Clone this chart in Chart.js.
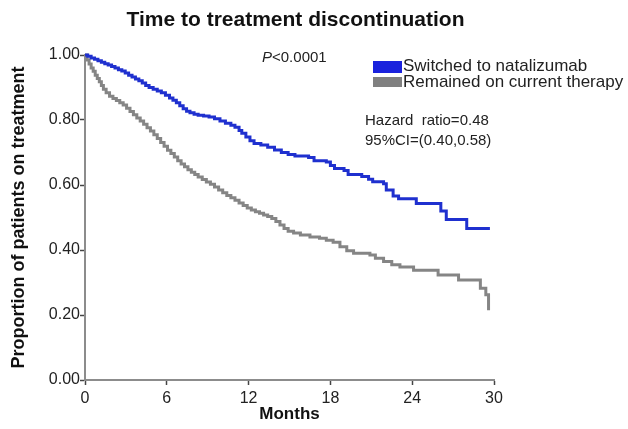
<!DOCTYPE html>
<html>
<head>
<meta charset="utf-8">
<script src="https://cdn.jsdelivr.net/npm/chart.js@4"></script>
<style>
  html, body { margin: 0; padding: 0; background: #fff; }
  #wrap { position: relative; width: 628px; height: 429px; font-family: "Liberation Sans", Arial, sans-serif; color: #222; }
  #c { position: absolute; left: 0; top: 0; }
  .ov { position: absolute; white-space: pre; line-height: 1; }
  .box { position: absolute; width: 29px; }
</style>
</head>
<body>
<div id="wrap">
  <canvas id="c" width="628" height="429"></canvas>
  <div class="ov" id="pval" style="left:262px; top:49px; font-size:15px;"><i>P</i>&lt;0.0001</div>
  <div class="box" style="left:373px; top:61px; height:12px; background:#1a22dd;"></div>
  <div class="box" style="left:373px; top:77px; height:10px; background:#808080;"></div>
  <div class="ov" id="leg1" style="left:403px; top:57px; font-size:17px;"></div>
  <div class="ov" id="leg2" style="left:403px; top:73px; font-size:17px;"></div>
  <div class="ov" style="left:365px; top:112px; font-size:15px;">Hazard  ratio=0.48</div>
  <div class="ov" style="left:365px; top:132px; font-size:15px;">95%CI=(0.40,0.58)</div>
</div>
<script>
// ---- data ----
const seriesNames = ['Switched to natalizumab', 'Remained on current therapy'];

const natalizumabMonths = [0, 0.2, 0.45, 0.7, 0.95, 1.2, 1.45, 1.7, 1.95, 2.2, 2.45, 2.7, 2.95, 3.2, 3.45, 3.7, 3.95, 4.2, 4.45, 4.7, 5.0, 5.3, 5.6, 5.9, 6.2, 6.45, 6.7, 6.95, 7.2, 7.45, 7.7, 8.0, 8.3, 8.7, 9.1, 9.5, 9.9, 10.3, 10.7, 11.0, 11.3, 11.5, 11.8, 12.1, 12.4, 12.9, 13.4, 13.9, 14.4, 14.9, 15.4, 16.4, 16.8, 17.7, 18.0, 18.3, 19.0, 19.3, 20.3, 20.8, 21.1, 21.9, 22.1, 22.6, 23.0, 24.3, 26.1, 26.5, 28.0, 29.7];
const natalizumabSurv = [1.0, 0.996, 0.991, 0.987, 0.982, 0.978, 0.973, 0.969, 0.965, 0.960, 0.955, 0.951, 0.945, 0.938, 0.932, 0.926, 0.921, 0.914, 0.906, 0.900, 0.895, 0.889, 0.884, 0.876, 0.868, 0.861, 0.853, 0.844, 0.835, 0.827, 0.822, 0.818, 0.815, 0.812, 0.809, 0.804, 0.797, 0.790, 0.784, 0.778, 0.768, 0.759, 0.748, 0.736, 0.728, 0.723, 0.716, 0.708, 0.700, 0.694, 0.689, 0.685, 0.675, 0.671, 0.66, 0.651, 0.645, 0.632, 0.626, 0.618, 0.61, 0.604, 0.585, 0.566, 0.558, 0.543, 0.52, 0.494, 0.466, 0.466];

const currentMonths = [0, 0.15, 0.3, 0.45, 0.6, 0.75, 0.9, 1.05, 1.2, 1.35, 1.55, 1.8, 2.05, 2.3, 2.55, 2.8, 3.05, 3.3, 3.55, 3.8, 4.05, 4.3, 4.55, 4.8, 5.05, 5.3, 5.55, 5.8, 6.05, 6.3, 6.55, 6.8, 7.05, 7.3, 7.55, 7.8, 8.05, 8.3, 8.6, 8.9, 9.2, 9.5, 9.8, 10.1, 10.4, 10.7, 11.0, 11.3, 11.6, 11.9, 12.2, 12.5, 12.8, 13.1, 13.4, 13.7, 14.0, 14.3, 14.6, 14.9, 15.3, 15.8, 16.5, 17.2, 17.7, 18.2, 18.7, 19.2, 19.7, 20.9, 21.3, 21.9, 22.5, 23.1, 24.1, 25.9, 27.4, 29.0, 29.4, 29.6];
const currentSurv = [1.0, 0.985, 0.972, 0.96, 0.95, 0.938, 0.928, 0.918, 0.906, 0.895, 0.884, 0.873, 0.866, 0.86, 0.853, 0.846, 0.836, 0.826, 0.816, 0.806, 0.797, 0.787, 0.776, 0.766, 0.755, 0.743, 0.731, 0.719, 0.707, 0.697, 0.686, 0.675, 0.665, 0.656, 0.647, 0.639, 0.632, 0.625, 0.617, 0.609, 0.602, 0.594, 0.585, 0.576, 0.568, 0.561, 0.553, 0.545, 0.537, 0.529, 0.523, 0.518, 0.513, 0.508, 0.503, 0.497, 0.488, 0.477, 0.466, 0.458, 0.452, 0.446, 0.44, 0.436, 0.43, 0.424, 0.41, 0.398, 0.39, 0.385, 0.375, 0.365, 0.355, 0.348, 0.338, 0.323, 0.308, 0.282, 0.262, 0.215];

const xTickValues = [0, 6, 12, 18, 24, 30];
const yTickValues = [0, 0.2, 0.4, 0.6, 0.8, 1.0];
const yTickLabels = ['0.00', '0.20', '0.40', '0.60', '0.80', '1.00'];
// --------------------------------------

document.getElementById('leg1').textContent = seriesNames[0];
document.getElementById('leg2').textContent = seriesNames[1];

const toPts = (xs, ys) => xs.map((x, i) => ({x: x, y: ys[i]}));
const FONT = "'Liberation Sans', Arial, sans-serif";

new Chart(document.getElementById('c'), {
  type: 'line',
  data: {
    datasets: [
      { label: seriesNames[0], data: toPts(natalizumabMonths, natalizumabSurv), borderColor: '#1f30cf', borderWidth: 3, stepped: 'before', pointRadius: 0, fill: false, clip: 6 },
      { label: seriesNames[1], data: toPts(currentMonths, currentSurv), borderColor: '#858585', borderWidth: 3, stepped: 'before', pointRadius: 0, fill: false, clip: 6 }
    ]
  },
  options: {
    responsive: false,
    animation: false,
    layout: { padding: { left: 0, right: 37, top: 0, bottom: 0 } },
    plugins: {
      legend: { display: false },
      tooltip: { enabled: false },
      title: {
        display: true,
        text: 'Time to treatment discontinuation',
        color: '#111',
        font: { family: FONT, size: 21, weight: 'bold' },
        padding: { top: 8, bottom: 21.8 }
      }
    },
    scales: {
      x: {
        type: 'linear', min: 0, max: 30,
        afterFit: s => { s.height = 49; },
        afterBuildTicks: s => { s.ticks = xTickValues.map(v => ({value: v})); },
        ticks: { color: '#222', font: { family: FONT, size: 16 }, padding: 4, maxRotation: 0, autoSkip: false },
        grid: { drawOnChartArea: false, drawTicks: true, tickLength: 5, tickColor: '#444', tickWidth: 1.5 },
        border: { display: true, color: '#8c8c8c', width: 2 },
        title: { display: true, text: 'Months', color: '#111', font: { family: FONT, size: 17, weight: 'bold' }, padding: { top: 0, bottom: 4 } }
      },
      y: {
        type: 'linear', min: 0, max: 1,
        afterFit: s => { s.width = 85; },
        afterBuildTicks: s => { s.ticks = yTickValues.map(v => ({value: v})); },
        ticks: { color: '#222', font: { family: FONT, size: 16 }, padding: 0,
          callback: (v) => { const i = yTickValues.findIndex(t => Math.abs(t - v) < 1e-9); return i >= 0 ? yTickLabels[i] : ''; } },
        grid: { drawOnChartArea: false, drawTicks: true, tickLength: 5, tickColor: '#444', tickWidth: 1.5 },
        border: { display: true, color: '#8c8c8c', width: 2 },
        title: { display: true, text: 'Proportion of patients on treatment', color: '#111', font: { family: FONT, size: 18, weight: 'bold' }, padding: { top: 8, bottom: 0 } }
      },
      pad: {
        type: 'linear', position: 'right', display: true,
        afterFit: s => { s.width = 97; },
        ticks: { display: false },
        grid: { display: false, drawTicks: false },
        border: { display: false }
      }
    }
  }
});
</script>
</body>
</html>
